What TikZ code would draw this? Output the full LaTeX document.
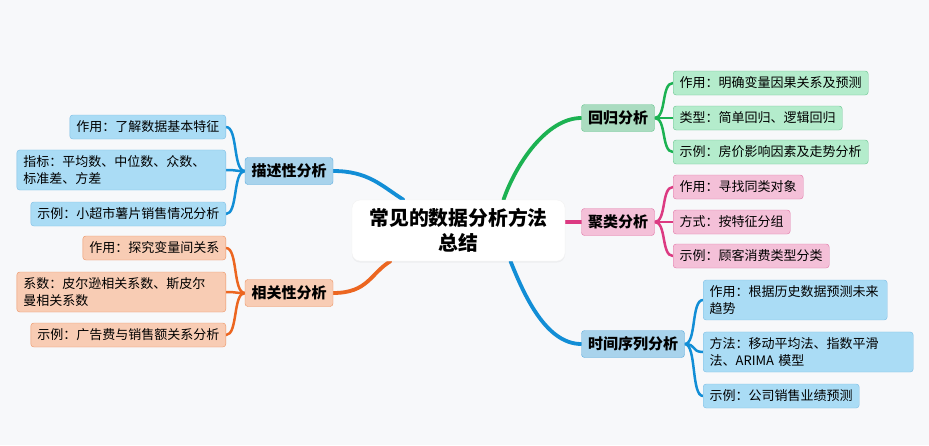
\documentclass[tikz,border=0pt]{standalone}
\usepackage{fontspec}
\setmainfont{Noto Sans CJK SC}
\usepackage{xcolor}
\usetikzlibrary{calc, backgrounds, shadows}

\definecolor{bgcol}{RGB}{247,248,250}
\definecolor{blueln}{RGB}{18,142,214}
\definecolor{bluemain}{RGB}{168,211,236}
\definecolor{blueedge}{RGB}{92,172,222}
\definecolor{bluefill}{RGB}{170,220,245}
\definecolor{greenln}{RGB}{28,178,82}
\definecolor{greenmain}{RGB}{170,220,192}
\definecolor{greenedge}{RGB}{104,196,142}
\definecolor{greenfill}{RGB}{180,236,204}
\definecolor{pinkln}{RGB}{220,58,130}
\definecolor{pinkfill}{RGB}{244,192,216}
\definecolor{pinkedge}{RGB}{226,118,166}
\definecolor{orangeln}{RGB}{236,102,32}
\definecolor{orangefill}{RGB}{248,204,180}
\definecolor{orangeedge}{RGB}{236,146,98}

\begin{document}
\begin{tikzpicture}[
    x=1pt, y=-1pt,
    root/.style={rectangle, rounded corners=8pt, fill=white, draw=black!5, minimum width=213pt, minimum height=61pt, font=\fontsize{19.8}{25}\selectfont\bfseries, align=center, drop shadow={opacity=0.08, shadow xshift=0pt, shadow yshift=-1.5pt}},
    topic/.style={rectangle, rounded corners=3pt, thin, minimum height=27pt, inner xsep=6.5pt, font=\fontsize{15}{18}\selectfont\bfseries},
    leaf/.style={rectangle, rounded corners=3pt, thin, minimum height=24pt, inner xsep=6.5pt, inner ysep=5.5pt, font=\fontsize{13}{17}\selectfont, align=left},
    bluetopic/.style={topic, fill=bluemain, draw=blueedge},
    blueleaf/.style={leaf, fill=bluefill, draw=blueedge!80},
    greentopic/.style={topic, fill=greenmain, draw=greenedge},
    greenleaf/.style={leaf, fill=greenfill, draw=greenedge},
    pinktopic/.style={topic, fill=pinkfill, draw=pinkedge},
    pinkleaf/.style={leaf, fill=pinkfill, draw=pinkedge},
    orangetopic/.style={topic, fill=orangefill, draw=orangeedge},
    orangeleaf/.style={leaf, fill=orangefill, draw=orangeedge},
    link/.style={line width=3.8pt, line cap=round},
    twig/.style={line width=2.5pt, line cap=round}
]

\useasboundingbox (0,0) rectangle (929,445);

% Centre
\node[root] (root) at (458.5,230.5) {常见的数据分析方法\\总结};

% Left 1: descriptive
\node[bluetopic] (desc) at (289,171) {描述性分析};
\node[blueleaf, anchor=east] (desc1) at (226,127) {作用：了解数据基本特征};
\node[blueleaf, anchor=east, text width=196pt] (desc2) at (226,170) {指标：平均数、中位数、众数、\\标准差、方差};
\node[blueleaf, anchor=east] (desc3) at (226,214) {示例：小超市薯片销售情况分析};

% Left 2: correlation
\node[orangetopic] (corr) at (289,293) {相关性分析};
\node[orangeleaf, anchor=east] (corr1) at (226,248) {作用：探究变量间关系};
\node[orangeleaf, anchor=east, text width=196pt] (corr2) at (226,292) {系数：皮尔逊相关系数、斯皮尔\\曼相关系数};
\node[orangeleaf, anchor=east] (corr3) at (226,335) {示例：广告费与销售额关系分析};

% Right 1: regression
\node[greentopic] (regr) at (618,118) {回归分析};
\node[greenleaf, anchor=west] (regr1) at (673,83) {作用：明确变量因果关系及预测};
\node[greenleaf, anchor=west] (regr2) at (673,118) {类型：简单回归、逻辑回归};
\node[greenleaf, anchor=west] (regr3) at (673,152) {示例：房价影响因素及走势分析};

% Right 2: clustering
\node[pinktopic] (clus) at (618,222) {聚类分析};
\node[pinkleaf, anchor=west] (clus1) at (673,187) {作用：寻找同类对象};
\node[pinkleaf, anchor=west] (clus2) at (673,222) {方式：按特征分组};
\node[pinkleaf, anchor=west] (clus3) at (673,256) {示例：顾客消费类型分类};

% Right 3: time series
\node[bluetopic] (time) at (633,344) {时间序列分析};
\node[blueleaf, anchor=west, text width=171pt] (time1) at (703,300) {作用：根据历史数据预测未来\\趋势};
\node[blueleaf, anchor=west, text width=197pt] (time2) at (703,352) {方法：移动平均法、指数平滑\\法、ARIMA 模型};
\node[blueleaf, anchor=west] (time3) at (703,396) {示例：公司销售业绩预测};

\begin{scope}[on background layer]
\fill[bgcol] (0,0) rectangle (929,445);

% centre to topics
\draw[link, blueln] (desc.east) .. controls +(35,0) and +(-22,-14) .. ($(root.north)+(-55,0)$);
\draw[link, orangeln] (corr.east) .. controls +(35,0) and +(-20,12) .. ($(root.south)+(-68,0)$);
\draw[link, greenln] ($(root.north)+(45,0)$) .. controls +(12,-35) and +(-35,0) .. (regr.west);
\draw[link, pinkln] (clus.west -| root.east) -- (clus.west);
\draw[link, blueln] ($(root.south)+(52,0)$) .. controls +(14,35) and +(-35,0) .. (time.west);

% topics to leaves
\foreach \leaf in {desc1, desc2, desc3}
  \draw[twig, blueln] (desc.west) .. controls +(-12,0) and +(12,0) .. (\leaf.east);
\foreach \leaf in {corr1, corr2, corr3}
  \draw[twig, orangeln] (corr.west) .. controls +(-12,0) and +(12,0) .. (\leaf.east);
\foreach \leaf in {regr1, regr2, regr3}
  \draw[twig, greenln] (regr.east) .. controls +(12,0) and +(-12,0) .. (\leaf.west);
\foreach \leaf in {clus1, clus2, clus3}
  \draw[twig, pinkln] (clus.east) .. controls +(12,0) and +(-12,0) .. (\leaf.west);
\foreach \leaf in {time1, time2, time3}
  \draw[twig, blueln] (time.east) .. controls +(12,0) and +(-12,0) .. (\leaf.west);
\end{scope}

\end{tikzpicture}
\end{document}
